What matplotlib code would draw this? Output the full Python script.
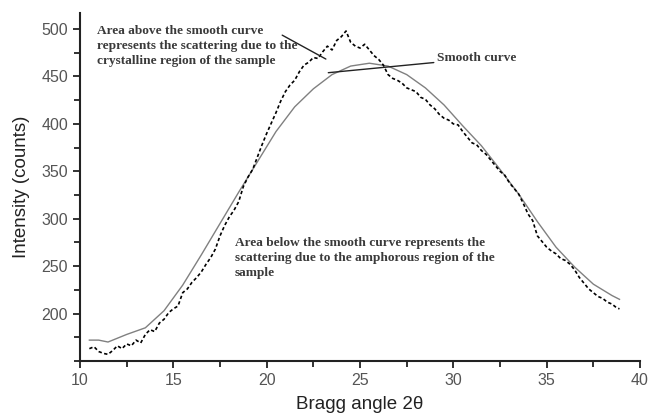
import matplotlib.pyplot as plt
from matplotlib.ticker import MultipleLocator

# smooth (fitted) curve
smooth_x = [10.5, 11.0, 11.5, 12.5, 13.5, 14.5, 15.5, 16.5, 17.5, 18.5, 19.5, 20.5,
            21.5, 22.5, 23.5, 24.5, 25.5, 26.5, 27.5, 28.5, 29.5, 30.5, 31.5, 32.5,
            33.5, 34.5, 35.5, 36.5, 37.5, 38.5, 38.9]
smooth_y = [172, 172, 170, 178, 185, 203, 230, 262, 295, 328, 360, 392,
            418, 437, 452, 461, 464, 461, 452, 438, 420, 398, 377, 352,
            326, 297, 270, 249, 231, 219, 215]

# measured diffractogram
raw_x = [10.5 + 0.25 * i for i in range(114)] + [38.9]
raw_y = [163, 165, 160, 158, 157, 161, 166, 163, 168, 166, 172, 169, 178, 183, 181, 190,
         194, 201, 205, 208, 222, 226, 233, 238, 244, 252, 259, 268, 282, 293, 302, 309,
         318, 334, 344, 352, 365, 378, 390, 401, 412, 424, 434, 441, 446, 455, 462, 465,
         470, 469, 476, 482, 478, 488, 492, 498, 486, 482, 480, 484, 478, 472, 468, 462,
         452, 448, 446, 443, 438, 436, 434, 428, 426, 420, 416, 410, 406, 404, 400, 399,
         392, 386, 380, 378, 372, 368, 362, 356, 350, 346, 338, 332, 326, 316, 305, 298,
         282, 276, 270, 266, 263, 258, 256, 252, 246, 238, 232, 226, 222, 218, 216, 212,
         210, 206, 205]

note_above = "Area above the smooth curve\nrepresents the scattering due to the\ncrystalline region of the sample"
note_below = "Area below the smooth curve represents the\nscattering due to the amphorous region of the\nsample"

fig = plt.figure(figsize=(6.48, 4.18), dpi=100)
ax = fig.add_axes([0.1235, 0.1364, 0.8642, 0.8326])

ax.plot(smooth_x, smooth_y, color='#808080', lw=1.0)
ax.plot(raw_x, raw_y, color='black', lw=1.2, ls=(0, (2, 1.5)))

ax.set_xlim(10, 40)
ax.set_ylim(150, 517)
ax.xaxis.set_major_locator(MultipleLocator(5))
ax.xaxis.set_minor_locator(MultipleLocator(2.5))
ax.yaxis.set_major_locator(MultipleLocator(50))
ax.yaxis.set_minor_locator(MultipleLocator(25))
ax.set_yticks(range(200, 501, 50))

for s in ('top', 'right'):
    ax.spines[s].set_visible(False)
for s in ('left', 'bottom'):
    ax.spines[s].set_linewidth(1.5)
    ax.spines[s].set_color('#222222')

ax.tick_params(which='both', direction='out', colors='#222222', width=1.3,
               labelcolor='#555555', labelsize=11.5)
ax.tick_params(which='major', length=5)
ax.tick_params(which='minor', length=4)
for lab in ax.get_xticklabels() + ax.get_yticklabels():
    lab.set_family('Liberation Sans')

ax.set_xlabel('Bragg angle 2θ', fontsize=13.5, family='Liberation Sans', color='#222222', labelpad=6)
ax.set_ylabel('Intensity (counts)', fontsize=13.5, family='Liberation Sans', color='#222222', labelpad=8)

serif = dict(family='Liberation Serif', fontsize=9.6, fontweight='bold', color='#3a3a3a', linespacing=1.33)
ax.text(10.9, 504, note_above, ha='left', va='top', **serif)
ax.text(18.3, 281, note_below, ha='left', va='top', **serif)

ax.annotate('', xy=(23.3, 467), xytext=(20.7, 495),
            arrowprops=dict(arrowstyle='-', color='#222222', lw=1.0))
ax.annotate('Smooth curve', xy=(23.3, 454), xytext=(29.1, 469),
            ha='left', va='center', **serif,
            arrowprops=dict(arrowstyle='-', color='#222222', lw=1.0, shrinkA=0, shrinkB=0))

fig.savefig('out.png', dpi=100)
